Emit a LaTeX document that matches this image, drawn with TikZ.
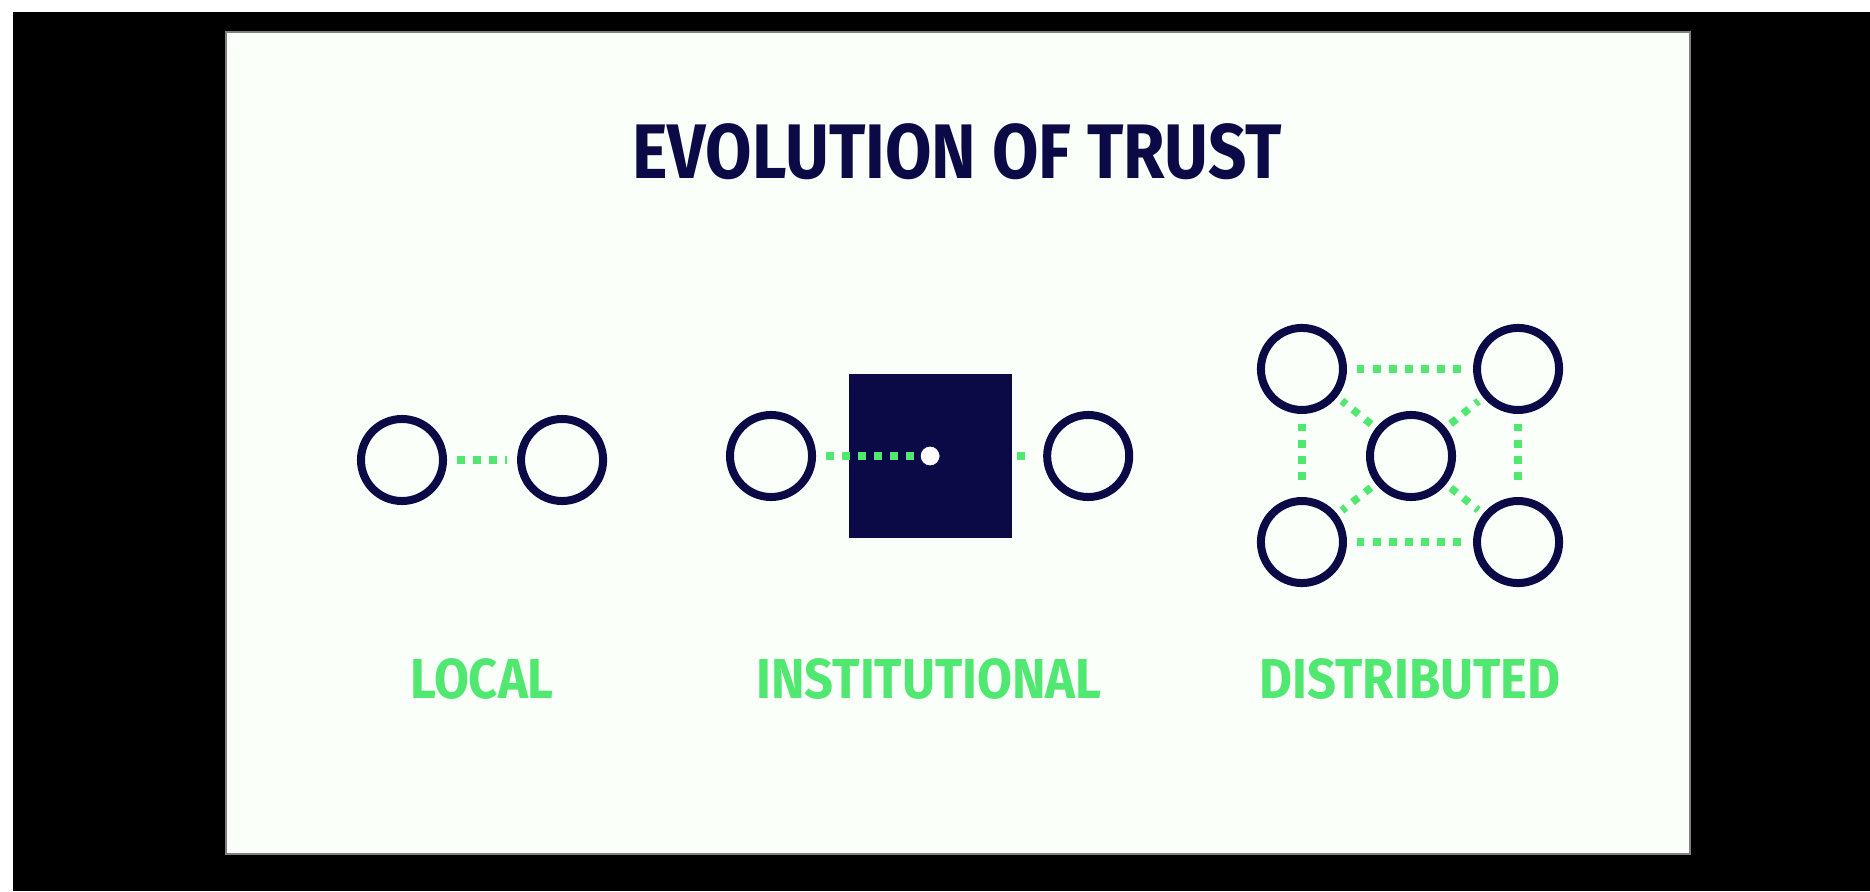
\documentclass[tikz,border=0pt]{standalone}
\usepackage{fontspec}
\newfontfamily\titlefont[FakeStretch=0.87]{Fira Sans}
\newfontfamily\slidefont[FakeStretch=0.9]{Fira Sans}
\usetikzlibrary{positioning}
\definecolor{trustnavy}{RGB}{12,10,70}
\definecolor{trustgreen}{RGB}{80,232,112}
\definecolor{slidebg}{RGB}{250,255,250}
\tikzset{
  peer/.style={circle, draw=trustnavy, line width=0.08cm, minimum size=0.82cm, inner sep=0pt},
  link/.style={draw=trustgreen, line width=0.075cm, dash pattern=on 0.075cm off 0.085cm, shorten <=0.1cm, shorten >=0.1cm},
  bank/.style={rectangle, fill=trustnavy, minimum size=1.63cm, inner sep=0pt},
  hub/.style={circle, fill=white, draw=trustnavy, line width=0.01cm, minimum size=0.2cm, inner sep=0pt},
  heading/.style={font=\titlefont\bfseries\fontsize{22}{22}\selectfont, text=trustnavy},
  caption/.style={font=\slidefont\bfseries\fontsize{16}{16}\selectfont, text=trustgreen}
}

\begin{document}
\begin{tikzpicture}[x=0.01cm, y=-0.01cm, node distance=1.6cm, on grid]
    \useasboundingbox (0,0) rectangle (1870,891);
    \fill[white] (0,0) rectangle (1870,891);
    \fill[black] (13,12) rectangle (1870,891);
    \draw[fill=slidebg, draw=gray, line width=0.02cm] (226,32) rectangle (1690,854);

    \node[heading] (title) at (957,152) {EVOLUTION OF TRUST};

    % local
    \node[peer] (la) at (402,460) {};
    \node[peer, right=of la] (lb) {};
    \draw[link] (la) -- (lb);

    % institutional
    \node[peer] (ia) at (771,456) {};
    \node[bank, right=1.59cm of ia] (bank) {};
    \node[peer, right=1.58cm of bank] (ib) {};
    \draw[link, shorten >=0pt] (ia) -- (bank.center);
    \draw[link, shorten <=0.05cm] (bank.east) -- (ib);
    \node[hub] (hub) at (bank.center) {};

    % distributed
    \node[peer] (dc) at (1411,456) {};
    \node[peer, above left=0.87cm and 1.09cm of dc] (dtl) {};
    \node[peer, right=2.16cm of dtl] (dtr) {};
    \node[peer, below=1.73cm of dtl] (dbl) {};
    \node[peer, right=2.16cm of dbl] (dbr) {};
    \draw[link] (dtl) -- (dtr);
    \draw[link] (dbl) -- (dbr);
    \draw[link] (dtl) -- (dbl);
    \draw[link] (dtr) -- (dbr);
    \foreach \corner in {dtl, dtr, dbl, dbr}
        \draw[link, shorten <=0.06cm, shorten >=0.06cm] (dc) -- (\corner);

    \node[caption] (local) at (482,679) {LOCAL};
    \node[caption] (inst) at (929,679) {INSTITUTIONAL};
    \node[caption] (dist) at (1410,679) {DISTRIBUTED};
\end{tikzpicture}
\end{document}
